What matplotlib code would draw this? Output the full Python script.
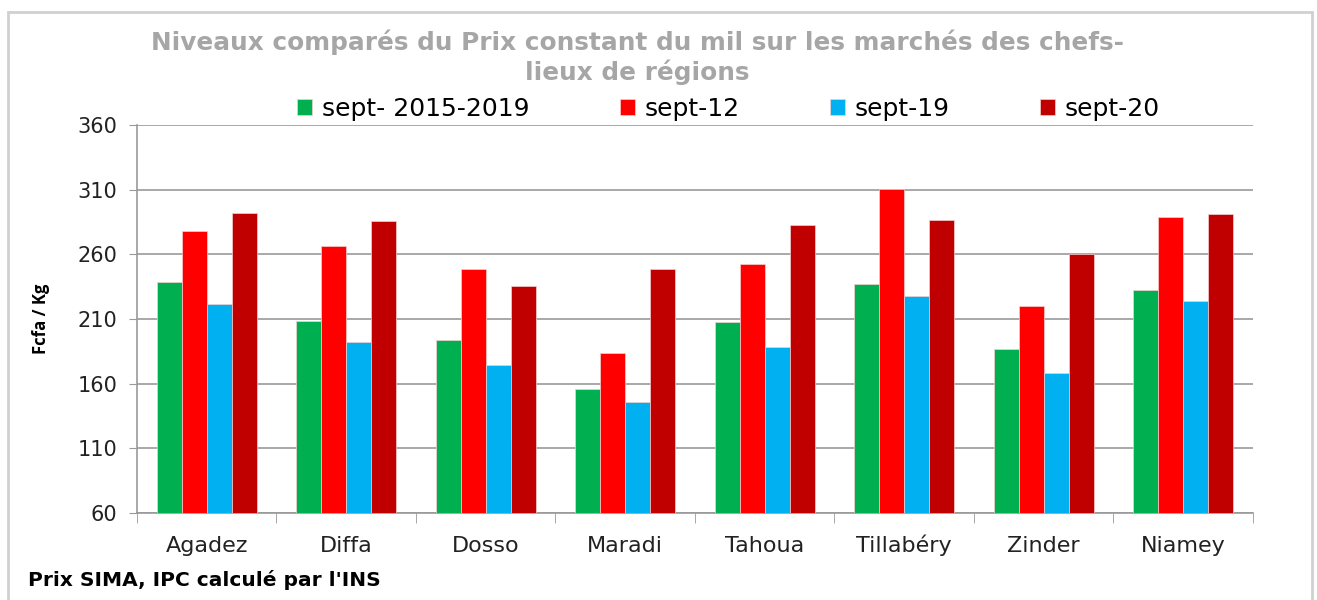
import matplotlib
matplotlib.use("Agg")
import matplotlib.pyplot as plt
from matplotlib.patches import Rectangle
import numpy as np

plt.rcParams["font.family"] = ["DejaVu Sans"]

# Données
regions = ["Agadez", "Diffa", "Dosso", "Maradi", "Tahoua", "Tillabéry", "Zinder", "Niamey"]
moy_2015_2019 = [238.6, 208.2, 194.0, 155.7, 207.7, 237.4, 186.8, 232.8]
sept_12 = [278.3, 266.4, 248.4, 184.0, 252.8, 310.8, 220.4, 289.1]
sept_19 = [221.4, 192.2, 174.2, 145.6, 188.6, 227.5, 168.0, 223.9]
sept_20 = [291.9, 285.5, 235.8, 248.4, 283.0, 286.5, 260.2, 291.2]
series_labels = ["sept- 2015-2019", "sept-12", "sept-19", "sept-20"]
couleurs = ["#00B050", "#FF0000", "#00B0F0", "#C00000"]
yticks = [60, 110, 160, 210, 260, 310, 360]

fig = plt.figure(figsize=(13.17, 6), dpi=100)
ax = fig.add_axes([0.104, 0.145, 0.8474, 0.6467])

x = np.arange(len(regions))
w = 0.179
series = [moy_2015_2019, sept_12, sept_19, sept_20]
for i, (vals, lab, c) in enumerate(zip(series, series_labels, couleurs)):
    ax.bar(x + (i - 1.5) * w, np.array(vals) - 60, w, bottom=60, color=c,
           label=lab, edgecolor="#F4D0D0", linewidth=0.5, zorder=3)

ax.set_ylim(60, 360)
ax.set_xlim(-0.5, len(regions) - 0.5)
ax.set_yticks(yticks)
ax.tick_params(axis="y", labelsize=15, length=6, color="#999999", pad=8, labelcolor="#222222")
ax.set_xticks(x)
ax.set_xticklabels(regions, fontsize=16, color="#222222", va="baseline")
ax.tick_params(axis="x", length=0, pad=28)
ax.set_xticks(np.arange(-0.5, len(regions), 1), minor=True)
ax.tick_params(axis="x", which="minor", length=7, color="#999999")
ax.grid(axis="y", color="#999999", linewidth=1.2, zorder=0)
for s in ["top", "right"]:
    ax.spines[s].set_visible(False)
for s in ["left", "bottom"]:
    ax.spines[s].set_color("#999999")
    ax.spines[s].set_linewidth(1.2)

ax.set_ylabel("Fcfa / Kg", fontsize=12, fontweight="bold", labelpad=20, family="Open Sans")

fig.text(0.484, 0.905, "Niveaux comparés du Prix constant du mil sur les marchés des chefs-\nlieux de régions",
         ha="center", va="center", fontsize=17.8, fontweight="bold", color="#A6A6A6", linespacing=1.22)

ax.legend(loc="lower center", bbox_to_anchor=(0.53, 0.953), ncol=4, frameon=False,
          fontsize=18, handlelength=0.6, handleheight=0.6, handletextpad=0.4, columnspacing=3.6)

fig.text(0.021, 0.033, "Prix SIMA, IPC calculé par l'INS", fontsize=14.5, fontweight="bold",
         ha="left", va="center")

fig.patches.append(Rectangle((0.006, -0.01), 0.99, 0.99, transform=fig.transFigure,
                             fill=False, edgecolor="#D0D0D0", linewidth=2))

fig.savefig("out.png", dpi=100)
